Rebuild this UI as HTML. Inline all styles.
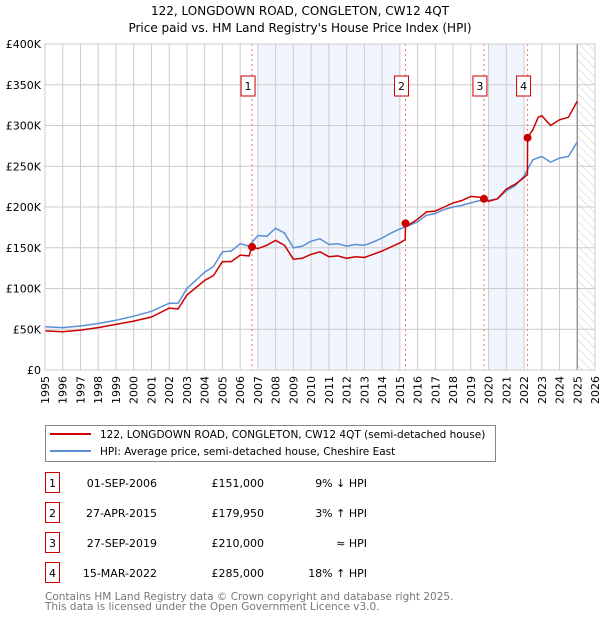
<!DOCTYPE html>
<html><head><meta charset="utf-8"><style>
body{margin:0;background:#fff;font-family:"Liberation Sans","DejaVu Sans",sans-serif;}
#wrap{position:relative;width:600px;height:620px;}
svg text{font-family:"DejaVu Sans","Liberation Sans",sans-serif;}
</style></head><body><div id="wrap">
<svg id="chart" width="600" height="620"></svg>
</div>
<script>
const years=[1995,1996,1997,1998,1999,2000,2001,2002,2003,2004,2005,2006,2007,2008,2009,2010,2011,2012,2013,2014,2015,2016,2017,2018,2019,2020,2021,2022,2023,2024,2025,2026];
const yTicks=[0,50,100,150,200,250,300,350,400];
const yTickLabels=["£0","£50K","£100K","£150K","£200K","£250K","£300K","£350K","£400K"];
const hpiT=[1995,1996,1997,1998,1999,2000,2001,2002,2002.5,2003,2004,2004.5,2005,2005.5,2006,2006.5,2007,2007.5,2008,2008.5,2009,2009.5,2010,2010.5,2011,2011.5,2012,2012.5,2013,2013.5,2014,2014.5,2015,2015.5,2016,2016.5,2017,2017.5,2018,2018.5,2019,2019.5,2020,2020.5,2021,2021.5,2022,2022.5,2023,2023.5,2024,2024.5,2025];
const hpiV=[53,52,54,57,61,66,72,82,82,100,120,127,145,146,155,152,165,164,174,168,150,152,158,161,154,155,152,154,153,157,162,168,173,177,182,190,192,197,200,202,205,208,208,210,220,226,238,258,262,255,260,262,280];
const ppT=[1995,1996,1997,1998,1999,2000,2001,2002,2002.5,2003,2004,2004.5,2005,2005.5,2006,2006.5,2006.67,2007,2007.5,2008,2008.5,2009,2009.5,2010,2010.5,2011,2011.5,2012,2012.5,2013,2013.5,2014,2014.5,2015,2015.3,2015.32,2015.5,2016,2016.5,2017,2017.5,2018,2018.5,2019,2019.5,2019.74,2020,2020.5,2021,2021.5,2022,2022.19,2022.2,2022.5,2022.8,2023,2023.5,2024,2024.5,2025];
const ppV=[48,47,49,52,56,60,65,76,75,92,110,116,133,133,141,140,151,149,153,159,153,136,137,142,145,139,140,137,139,138,142,146,151,156,160,180,178,185,194,195,200,205,208,213,212,210,207,210,222,228,236,240,285,295,310,312,300,307,310,330];
const saleT=[2006.67,2015.32,2019.74,2022.2];
const saleV=[151,179.95,210,285];
const saleLabels=["1","2","3","4"];
const saleDates=["01-SEP-2006","27-APR-2015","27-SEP-2019","15-MAR-2022"];
const salePrices=["£151,000","£179,950","£210,000","£285,000"];
const saleRel=["9% ↓ HPI","3% ↑ HPI","≈ HPI","18% ↑ HPI"];

const NS="http://www.w3.org/2000/svg";
const svg=document.getElementById('chart');
const X0=45,X1=595,Y0=370,Y1=44;
const x=t=>X0+(t-1995)/(2026-1995)*(X1-X0);
const y=v=>Y0-v/400*(Y0-Y1);
function mk(tag,attrs,parent){const e=document.createElementNS(NS,tag);for(const k in attrs)e.setAttribute(k,attrs[k]);(parent||svg).appendChild(e);return e;}

const defs=mk('defs',{});
const pat=mk('pattern',{id:'hatch',width:6,height:6,patternUnits:'userSpaceOnUse',patternTransform:'rotate(-45)'},defs);
mk('line',{x1:0,y1:0,x2:0,y2:6,stroke:'#ccc','stroke-width':1},pat);

let e;
e=mk('text',{x:300,y:15,'text-anchor':'middle','font-size':12,fill:'#000'});e.textContent="122, LONGDOWN ROAD, CONGLETON, CW12 4QT";


e=mk('text',{x:300,y:32,'text-anchor':'middle','font-size':12,fill:'#000'});e.textContent="Price paid vs. HM Land Registry's House Price Index (HPI)";



[[2007,2015],[2020,2022]].forEach(b=>{
 e=mk('rect',{x:x(b[0]),y:Y1,width:x(b[1])-x(b[0]),height:Y0-Y1,fill:'#eef3fd',opacity:0.8});
 
 
});
e=mk('rect',{x:x(2025),y:Y1,width:x(2026)-x(2025),height:Y0-Y1,fill:'url(#hatch)'});



years.forEach(t=>{
 e=mk('line',{x1:x(t),x2:x(t),y1:Y1,y2:Y0,stroke:'#cccccc','stroke-width':1});
 
 
 e=mk('text',{x:0,y:0,transform:`translate(${x(t)+4},${Y0+6}) rotate(-90)`,'text-anchor':'end','font-size':11,fill:'#000'});
 e.textContent=t;
 
 
});
yTicks.forEach((v,i)=>{
 e=mk('line',{x1:X0,x2:X1,y1:y(v),y2:y(v),stroke:'#cccccc','stroke-width':1});
 
 
 e=mk('text',{x:X0-4,y:y(v)+4,'text-anchor':'end','font-size':11,fill:'#000'});
 e.textContent=yTickLabels[i];
 
 
});
e=mk('line',{x1:x(2025),x2:x(2025),y1:Y1,y2:Y0,stroke:'#999','stroke-width':1.5});



saleT.forEach((t,i)=>{
 e=mk('line',{x1:x(t),x2:x(t),y1:Y1,y2:Y0,stroke:'#f07070','stroke-width':1,'stroke-dasharray':'2,3'});
 
 
});

function path(ts,vs){return ts.map((t,i)=>(i?'L':'M')+x(t).toFixed(1)+','+y(vs[i]).toFixed(1)).join('');}
e=mk('path',{d:path(hpiT,hpiV),fill:'none',stroke:'#5b8fd6','stroke-width':1.5});


e=mk('path',{d:path(ppT,ppV),fill:'none',stroke:'#cc0000','stroke-width':1.5});



saleT.forEach((t,i)=>{
 e=mk('circle',{cx:x(t),cy:y(saleV[i]),r:4,fill:'#cc0000'});
 
 
 const cx=x(t)-4;
 e=mk('rect',{x:cx-7,y:76,width:14,height:20,fill:'#fff',stroke:'#cc0000','stroke-width':1});
 
 
 e=mk('text',{x:cx,y:90,'text-anchor':'middle','font-size':11,fill:'#000'});
 e.textContent=saleLabels[i];
 
 
});

e=mk('rect',{x:X0,y:Y1,width:X1-X0,height:Y0-Y1,fill:'none',stroke:'#cccccc','stroke-width':1});



const lg=mk('g',{});


mk('rect',{x:45.5,y:425.5,width:450,height:36,fill:'#fff',stroke:'#888','stroke-width':1},lg);
mk('line',{x1:50,x2:91,y1:434,y2:434,stroke:'#cc0000','stroke-width':2},lg);
mk('line',{x1:50,x2:91,y1:451,y2:451,stroke:'#5b8fd6','stroke-width':2},lg);
e=mk('text',{x:100,y:438,'font-size':10.5,fill:'#000'},lg);e.textContent="122, LONGDOWN ROAD, CONGLETON, CW12 4QT (semi-detached house)";


e=mk('text',{x:100,y:455,'font-size':10.5,fill:'#000'},lg);e.textContent="HPI: Average price, semi-detached house, Cheshire East";



saleLabels.forEach((l,i)=>{
 const ry=483+i*30;
 e=mk('rect',{x:45.5,y:ry-10.5,width:14,height:20,fill:'#fff',stroke:'#cc0000','stroke-width':1});
 
 
 e=mk('text',{x:52.5,y:ry+4,'text-anchor':'middle','font-size':11,fill:'#000'});e.textContent=l;
 
 
 e=mk('text',{x:157,y:ry+4,'text-anchor':'end','font-size':11,fill:'#000'});e.textContent=saleDates[i];
 
 
 e=mk('text',{x:264,y:ry+4,'text-anchor':'end','font-size':11,fill:'#000'});e.textContent=salePrices[i];
 
 
 e=mk('text',{x:367,y:ry+4,'text-anchor':'end','font-size':11,fill:'#000'});e.textContent=saleRel[i];
 
 
});
e=mk('text',{x:45,y:600,'font-size':10.5,fill:'#777'});e.textContent="Contains HM Land Registry data © Crown copyright and database right 2025.";


e=mk('text',{x:45,y:610,'font-size':10.5,fill:'#777'});e.textContent="This data is licensed under the Open Government Licence v3.0.";


</script></body></html>
